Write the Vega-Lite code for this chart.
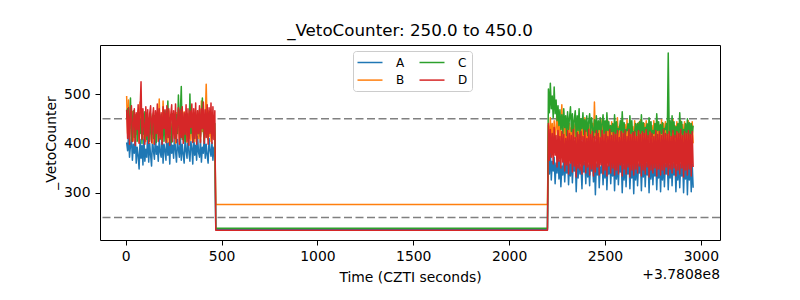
{
  "$schema": "https://vega.github.io/schema/vega-lite/v6.json",
  "width": 620,
  "height": 195,
  "autosize": {"type": "none"},
  "padding": {"left": 100, "top": 45, "right": 80, "bottom": 60},
  "background": "white",
  "config": {
    "font": "DejaVu Sans",
    "view": {"stroke": "black", "strokeWidth": 1},
    "axis": {
      "domain": false, "grid": false, "ticks": true, "tickSize": 5, "tickColor": "black", "tickWidth": 1,
      "labelFont": "DejaVu Sans", "labelFontSize": 13.9, "labelColor": "black",
      "titleFont": "DejaVu Sans", "titleFontSize": 13.9, "titleFontWeight": "normal", "titleColor": "black",
      "labelFlush": false, "labelOverlap": false
    }
  },
  "title": {
    "text": "_VetoCounter: 250.0 to 450.0",
    "font": "DejaVu Sans", "fontSize": 16.7, "fontWeight": "normal", "color": "black",
    "anchor": "middle", "baseline": "alphabetic", "offset": -8
  },
  "datasets": {
    "thr": [{"y": 250}, {"y": 450}],
    "note": [{"label": "+3.7808e8"}],
    "veto": [
      {"t":5,"A":402,"B":496,"C":450,"D":468},
      {"t":10,"A":385,"B":420,"C":470,"D":410},
      {"t":15,"A":418,"B":488,"C":428,"D":472},
      {"t":20,"A":372,"B":412,"C":440,"D":398},
      {"t":25,"A":396,"B":452,"C":492,"D":455},
      {"t":30,"A":410,"B":430,"C":405,"D":476},
      {"t":35,"A":366,"B":464,"C":448,"D":404},
      {"t":40,"A":398,"B":405,"C":466,"D":440},
      {"t":45,"A":380,"B":448,"C":412,"D":470},
      {"t":50,"A":420,"B":458,"C":436,"D":396},
      {"t":55,"A":360,"B":418,"C":458,"D":462},
      {"t":60,"A":392,"B":440,"C":404,"D":428},
      {"t":65,"A":375,"B":466,"C":446,"D":478},
      {"t":70,"A":348,"B":402,"C":462,"D":400},
      {"t":75,"A":408,"B":484,"C":420,"D":466},
      {"t":80,"A":370,"B":426,"C":450,"D":525},
      {"t":85,"A":396,"B":452,"C":400,"D":408},
      {"t":90,"A":356,"B":410,"C":455,"D":470},
      {"t":95,"A":415,"B":460,"C":418,"D":434},
      {"t":100,"A":364,"B":436,"C":464,"D":398},
      {"t":105,"A":388,"B":404,"C":428,"D":474},
      {"t":110,"A":372,"B":462,"C":408,"D":415},
      {"t":115,"A":426,"B":420,"C":452,"D":468},
      {"t":120,"A":362,"B":448,"C":436,"D":400},
      {"t":125,"A":400,"B":408,"C":404,"D":460},
      {"t":130,"A":376,"B":456,"C":460,"D":476},
      {"t":135,"A":354,"B":430,"C":418,"D":402},
      {"t":140,"A":412,"B":400,"C":448,"D":452},
      {"t":145,"A":384,"B":462,"C":410,"D":472},
      {"t":150,"A":368,"B":420,"C":456,"D":398},
      {"t":155,"A":420,"B":446,"C":430,"D":466},
      {"t":160,"A":378,"B":406,"C":402,"D":420},
      {"t":165,"A":394,"B":458,"C":462,"D":480},
      {"t":170,"A":364,"B":430,"C":420,"D":404},
      {"t":175,"A":410,"B":490,"C":444,"D":470},
      {"t":180,"A":382,"B":418,"C":408,"D":410},
      {"t":185,"A":372,"B":452,"C":458,"D":462},
      {"t":190,"A":418,"B":404,"C":426,"D":398},
      {"t":195,"A":360,"B":486,"C":450,"D":474},
      {"t":200,"A":398,"B":428,"C":404,"D":430},
      {"t":205,"A":386,"B":460,"C":466,"D":468},
      {"t":210,"A":366,"B":410,"C":418,"D":402},
      {"t":215,"A":424,"B":448,"C":440,"D":476},
      {"t":220,"A":376,"B":402,"C":486,"D":412},
      {"t":225,"A":402,"B":466,"C":412,"D":470},
      {"t":230,"A":358,"B":424,"C":452,"D":396},
      {"t":235,"A":414,"B":440,"C":428,"D":458},
      {"t":240,"A":380,"B":406,"C":402,"D":478},
      {"t":245,"A":396,"B":458,"C":460,"D":404},
      {"t":250,"A":370,"B":420,"C":424,"D":466},
      {"t":255,"A":420,"B":450,"C":446,"D":410},
      {"t":260,"A":384,"B":400,"C":410,"D":480},
      {"t":265,"A":362,"B":462,"C":458,"D":402},
      {"t":270,"A":408,"B":426,"C":420,"D":444},
      {"t":275,"A":388,"B":444,"C":498,"D":472},
      {"t":280,"A":372,"B":404,"C":432,"D":398},
      {"t":285,"A":416,"B":456,"C":462,"D":468},
      {"t":290,"A":366,"B":418,"C":515,"D":412},
      {"t":295,"A":398,"B":446,"C":408,"D":474},
      {"t":300,"A":378,"B":408,"C":450,"D":400},
      {"t":305,"A":360,"B":464,"C":424,"D":462},
      {"t":310,"A":412,"B":422,"C":404,"D":418},
      {"t":315,"A":384,"B":452,"C":458,"D":478},
      {"t":320,"A":370,"B":402,"C":430,"D":404},
      {"t":325,"A":422,"B":460,"C":446,"D":470},
      {"t":330,"A":380,"B":418,"C":410,"D":396},
      {"t":335,"A":364,"B":448,"C":500,"D":466},
      {"t":340,"A":404,"B":406,"C":420,"D":432},
      {"t":345,"A":390,"B":462,"C":452,"D":480},
      {"t":350,"A":358,"B":428,"C":406,"D":402},
      {"t":355,"A":418,"B":442,"C":462,"D":470},
      {"t":360,"A":376,"B":404,"C":428,"D":410},
      {"t":365,"A":396,"B":458,"C":446,"D":482},
      {"t":370,"A":366,"B":420,"C":410,"D":398},
      {"t":375,"A":414,"B":466,"C":456,"D":466},
      {"t":380,"A":382,"B":410,"C":420,"D":420},
      {"t":385,"A":372,"B":454,"C":468,"D":476},
      {"t":390,"A":408,"B":402,"C":414,"D":402},
      {"t":395,"A":362,"B":486,"C":448,"D":470},
      {"t":400,"A":392,"B":424,"C":492,"D":430},
      {"t":405,"A":380,"B":460,"C":426,"D":484},
      {"t":410,"A":416,"B":406,"C":404,"D":400},
      {"t":415,"A":370,"B":448,"C":458,"D":468},
      {"t":420,"A":398,"B":520,"C":430,"D":412},
      {"t":425,"A":376,"B":432,"C":448,"D":478},
      {"t":430,"A":360,"B":466,"C":408,"D":398},
      {"t":435,"A":410,"B":414,"C":462,"D":472},
      {"t":440,"A":386,"B":456,"C":424,"D":420},
      {"t":445,"A":374,"B":404,"C":446,"D":482},
      {"t":450,"A":402,"B":462,"C":410,"D":400},
      {"t":455,"A":366,"B":426,"C":456,"D":474},
      {"t":460,"A":392,"B":450,"C":418,"D":408},
      {"t":465,"A":378,"B":410,"C":440,"D":466},
      {"t":470,"A":225,"B":276,"C":228,"D":224},
      {"t":2200,"A":225,"B":276,"C":228,"D":224},
      {"t":2205,"A":378,"B":436,"C":510,"D":440},
      {"t":2210,"A":338,"B":398,"C":462,"D":366},
      {"t":2215,"A":386,"B":452,"C":522,"D":428},
      {"t":2220,"A":326,"B":410,"C":470,"D":372},
      {"t":2225,"A":364,"B":440,"C":496,"D":420},
      {"t":2230,"A":344,"B":392,"C":452,"D":358},
      {"t":2235,"A":372,"B":446,"C":514,"D":432},
      {"t":2240,"A":318,"B":404,"C":460,"D":376},
      {"t":2245,"A":360,"B":430,"C":488,"D":416},
      {"t":2250,"A":340,"B":468,"C":446,"D":352},
      {"t":2255,"A":380,"B":412,"C":476,"D":426},
      {"t":2260,"A":328,"B":444,"C":436,"D":364},
      {"t":2265,"A":366,"B":400,"C":468,"D":414},
      {"t":2270,"A":312,"B":438,"C":428,"D":350},
      {"t":2275,"A":354,"B":478,"C":458,"D":424},
      {"t":2280,"A":336,"B":404,"C":420,"D":362},
      {"t":2285,"A":376,"B":446,"C":470,"D":418},
      {"t":2290,"A":322,"B":396,"C":432,"D":344},
      {"t":2295,"A":362,"B":436,"C":456,"D":410},
      {"t":2300,"A":340,"B":402,"C":416,"D":356},
      {"t":2305,"A":370,"B":450,"C":464,"D":426},
      {"t":2310,"A":316,"B":392,"C":428,"D":338},
      {"t":2315,"A":358,"B":440,"C":452,"D":420},
      {"t":2320,"A":334,"B":406,"C":474,"D":360},
      {"t":2325,"A":374,"B":432,"C":424,"D":416},
      {"t":2330,"A":320,"B":398,"C":460,"D":342},
      {"t":2335,"A":364,"B":446,"C":418,"D":428},
      {"t":2340,"A":344,"B":410,"C":448,"D":354},
      {"t":2345,"A":372,"B":438,"C":466,"D":412},
      {"t":2350,"A":302,"B":394,"C":414,"D":332},
      {"t":2355,"A":356,"B":444,"C":456,"D":422},
      {"t":2360,"A":330,"B":402,"C":426,"D":350},
      {"t":2365,"A":368,"B":436,"C":470,"D":418},
      {"t":2370,"A":338,"B":390,"C":412,"D":346},
      {"t":2375,"A":352,"B":448,"C":450,"D":424},
      {"t":2380,"A":308,"B":408,"C":430,"D":338},
      {"t":2385,"A":374,"B":440,"C":462,"D":414},
      {"t":2390,"A":342,"B":398,"C":418,"D":356},
      {"t":2395,"A":362,"B":452,"C":448,"D":426},
      {"t":2400,"A":318,"B":396,"C":424,"D":340},
      {"t":2405,"A":370,"B":442,"C":456,"D":410},
      {"t":2410,"A":332,"B":404,"C":416,"D":352},
      {"t":2415,"A":356,"B":436,"C":444,"D":428},
      {"t":2420,"A":314,"B":394,"C":460,"D":336},
      {"t":2425,"A":372,"B":446,"C":420,"D":418},
      {"t":2430,"A":344,"B":400,"C":452,"D":348},
      {"t":2435,"A":360,"B":440,"C":430,"D":424},
      {"t":2440,"A":322,"B":392,"C":412,"D":334},
      {"t":2445,"A":366,"B":484,"C":448,"D":414},
      {"t":2450,"A":296,"B":410,"C":422,"D":342},
      {"t":2455,"A":358,"B":446,"C":456,"D":426},
      {"t":2460,"A":336,"B":404,"C":416,"D":352},
      {"t":2465,"A":374,"B":444,"C":446,"D":420},
      {"t":2470,"A":310,"B":396,"C":428,"D":336},
      {"t":2475,"A":352,"B":438,"C":452,"D":412},
      {"t":2480,"A":340,"B":402,"C":414,"D":356},
      {"t":2485,"A":368,"B":448,"C":440,"D":426},
      {"t":2490,"A":316,"B":394,"C":458,"D":338},
      {"t":2495,"A":362,"B":432,"C":420,"D":418},
      {"t":2500,"A":330,"B":406,"C":446,"D":346},
      {"t":2505,"A":376,"B":440,"C":412,"D":424},
      {"t":2510,"A":306,"B":392,"C":462,"D":334},
      {"t":2515,"A":354,"B":446,"C":426,"D":414},
      {"t":2520,"A":338,"B":400,"C":444,"D":354},
      {"t":2525,"A":366,"B":436,"C":414,"D":428},
      {"t":2530,"A":318,"B":396,"C":436,"D":340},
      {"t":2535,"A":360,"B":444,"C":424,"D":416},
      {"t":2540,"A":334,"B":404,"C":440,"D":350},
      {"t":2545,"A":372,"B":438,"C":410,"D":422},
      {"t":2550,"A":304,"B":392,"C":458,"D":336},
      {"t":2555,"A":356,"B":442,"C":420,"D":418},
      {"t":2560,"A":328,"B":398,"C":444,"D":346},
      {"t":2565,"A":370,"B":452,"C":416,"D":426},
      {"t":2570,"A":316,"B":402,"C":430,"D":338},
      {"t":2575,"A":362,"B":434,"C":428,"D":412},
      {"t":2580,"A":342,"B":396,"C":446,"D":356},
      {"t":2585,"A":368,"B":446,"C":414,"D":424},
      {"t":2590,"A":300,"B":394,"C":464,"D":334},
      {"t":2595,"A":356,"B":440,"C":422,"D":420},
      {"t":2600,"A":326,"B":406,"C":442,"D":348},
      {"t":2605,"A":374,"B":438,"C":412,"D":426},
      {"t":2610,"A":312,"B":392,"C":428,"D":338},
      {"t":2615,"A":360,"B":448,"C":426,"D":414},
      {"t":2620,"A":338,"B":402,"C":440,"D":352},
      {"t":2625,"A":370,"B":436,"C":416,"D":428},
      {"t":2630,"A":308,"B":396,"C":456,"D":332},
      {"t":2635,"A":354,"B":444,"C":420,"D":418},
      {"t":2640,"A":330,"B":400,"C":446,"D":346},
      {"t":2645,"A":366,"B":434,"C":412,"D":422},
      {"t":2650,"A":298,"B":392,"C":424,"D":336},
      {"t":2655,"A":362,"B":446,"C":424,"D":424},
      {"t":2660,"A":326,"B":404,"C":440,"D":348},
      {"t":2665,"A":372,"B":438,"C":414,"D":414},
      {"t":2670,"A":314,"B":396,"C":440,"D":340},
      {"t":2675,"A":358,"B":442,"C":426,"D":426},
      {"t":2680,"A":340,"B":400,"C":444,"D":354},
      {"t":2685,"A":366,"B":448,"C":410,"D":418},
      {"t":2690,"A":304,"B":394,"C":458,"D":334},
      {"t":2695,"A":356,"B":436,"C":422,"D":424},
      {"t":2700,"A":332,"B":402,"C":442,"D":346},
      {"t":2705,"A":370,"B":440,"C":416,"D":420},
      {"t":2710,"A":312,"B":396,"C":432,"D":338},
      {"t":2715,"A":360,"B":446,"C":428,"D":428},
      {"t":2720,"A":336,"B":392,"C":440,"D":352},
      {"t":2725,"A":368,"B":438,"C":412,"D":416},
      {"t":2730,"A":300,"B":404,"C":452,"D":332},
      {"t":2735,"A":356,"B":444,"C":424,"D":424},
      {"t":2740,"A":328,"B":398,"C":444,"D":346},
      {"t":2745,"A":372,"B":436,"C":414,"D":420},
      {"t":2750,"A":316,"B":402,"C":426,"D":340},
      {"t":2755,"A":362,"B":446,"C":420,"D":414},
      {"t":2760,"A":334,"B":394,"C":440,"D":350},
      {"t":2765,"A":366,"B":440,"C":412,"D":426},
      {"t":2770,"A":306,"B":398,"C":460,"D":334},
      {"t":2775,"A":356,"B":442,"C":426,"D":418},
      {"t":2780,"A":330,"B":404,"C":444,"D":348},
      {"t":2785,"A":370,"B":436,"C":416,"D":424},
      {"t":2790,"A":302,"B":392,"C":438,"D":336},
      {"t":2795,"A":360,"B":448,"C":420,"D":416},
      {"t":2800,"A":326,"B":400,"C":442,"D":346},
      {"t":2805,"A":368,"B":440,"C":414,"D":428},
      {"t":2810,"A":312,"B":396,"C":430,"D":338},
      {"t":2815,"A":358,"B":444,"C":428,"D":420},
      {"t":2820,"A":338,"B":402,"C":440,"D":352},
      {"t":2825,"A":364,"B":438,"C":416,"D":418},
      {"t":2830,"A":306,"B":394,"C":583,"D":336},
      {"t":2835,"A":356,"B":446,"C":420,"D":424},
      {"t":2840,"A":330,"B":400,"C":446,"D":348},
      {"t":2845,"A":370,"B":440,"C":414,"D":414},
      {"t":2850,"A":314,"B":396,"C":456,"D":340},
      {"t":2855,"A":360,"B":448,"C":422,"D":426},
      {"t":2860,"A":336,"B":402,"C":444,"D":350},
      {"t":2865,"A":366,"B":436,"C":412,"D":416},
      {"t":2870,"A":302,"B":392,"C":434,"D":334},
      {"t":2875,"A":354,"B":444,"C":424,"D":424},
      {"t":2880,"A":326,"B":398,"C":440,"D":346},
      {"t":2885,"A":372,"B":440,"C":414,"D":420},
      {"t":2890,"A":310,"B":396,"C":462,"D":338},
      {"t":2895,"A":358,"B":446,"C":420,"D":428},
      {"t":2900,"A":334,"B":404,"C":444,"D":350},
      {"t":2905,"A":368,"B":438,"C":412,"D":416},
      {"t":2910,"A":300,"B":392,"C":428,"D":332},
      {"t":2915,"A":356,"B":444,"C":422,"D":424},
      {"t":2920,"A":328,"B":400,"C":440,"D":346},
      {"t":2925,"A":370,"B":436,"C":414,"D":420},
      {"t":2930,"A":296,"B":394,"C":450,"D":336},
      {"t":2935,"A":360,"B":446,"C":420,"D":426},
      {"t":2940,"A":326,"B":402,"C":442,"D":348},
      {"t":2945,"A":366,"B":440,"C":412,"D":418},
      {"t":2950,"A":302,"B":396,"C":440,"D":334},
      {"t":2955,"A":358,"B":444,"C":418,"D":424},
      {"t":2960,"A":310,"B":400,"C":436,"D":352}
    ]
  },
  "layer": [
    {
      "data": {"name": "thr"},
      "mark": {"type": "rule", "color": "#808080", "strokeWidth": 1.5, "strokeDash": [8, 3.5]},
      "encoding": {
        "y": {"field": "y", "type": "quantitative", "title": "_VetoCounter",
              "scale": {"domain": [204.2, 599.3], "nice": false, "zero": false}}
      }
    },
    {
      "data": {"name": "veto"},
      "transform": [{"fold": ["A", "B", "C", "D"], "as": ["series", "value"]}],
      "mark": {"type": "line", "strokeWidth": 1.5, "strokeJoin": "round", "clip": true},
      "encoding": {
        "x": {"field": "t", "type": "quantitative", "title": "Time (CZTI seconds)",
              "scale": {"domain": [-134, 3100], "nice": false, "zero": false},
              "axis": {"values": [0, 500, 1000, 1500, 2000, 2500, 3000], "format": "d", "labelPadding": 4, "titlePadding": 8}},
        "y": {"field": "value", "type": "quantitative", "title": "_VetoCounter",
              "scale": {"domain": [204.2, 599.3], "nice": false, "zero": false},
              "axis": {"values": [300, 400, 500], "format": "d", "labelPadding": 5, "titlePadding": 5}},
        "color": {
          "field": "series", "type": "nominal",
          "scale": {"domain": ["A", "B", "C", "D"], "range": ["#1f77b4", "#ff7f0e", "#2ca02c", "#d62728"]},
          "legend": {
            "title": null, "orient": "none", "legendX": 253, "legendY": 6,
            "columns": 2,
            "symbolType": "M-2,0H2", "symbolSize": 156.25, "symbolStrokeWidth": 1.5, "symbolOffset": 5.5,
            "labelFont": "DejaVu Sans", "labelFontSize": 12, "labelColor": "black", "labelOffset": 19,
            "columnPadding": 12, "rowPadding": 4.6, "padding": 4.5,
            "strokeColor": "#cccccc", "fillColor": "rgba(255,255,255,0.8)", "cornerRadius": 3
          }
        }
      }
    },
    {
      "data": {"name": "note"},
      "mark": {"type": "text", "align": "right", "baseline": "alphabetic", "dy": 39, "fontSize": 13.9, "font": "DejaVu Sans", "color": "black"},
      "encoding": {
        "x": {"datum": 3100, "type": "quantitative", "title": "Time (CZTI seconds)"},
        "y": {"datum": 204.2, "type": "quantitative", "title": "_VetoCounter"},
        "text": {"field": "label"}
      }
    }
  ]
}
